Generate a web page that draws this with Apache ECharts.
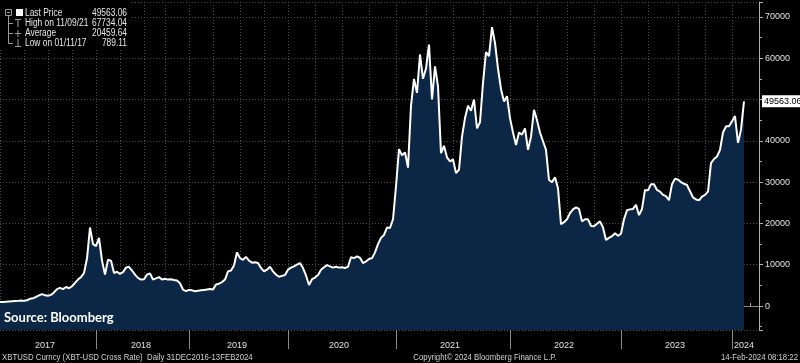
<!DOCTYPE html>
<html><head><meta charset="utf-8">
<script src="https://cdn.jsdelivr.net/npm/echarts@6/dist/echarts.min.js"></script>
<style>html,body{margin:0;padding:0;background:#000}#c{width:800px;height:363px}</style>
</head><body><div id="c"></div>
<script>
const years = ['2017','2018','2019','2020','2021','2022','2023','2024'];
const p2017 = [1000,1000,1050,1100,1150,1200,1250,1350,1250,1400,1750,1900,2200,2600,2900,2600,2500,2700,3300,4100,4400,4100,4600,4300,4800,5600,6400,7000,8000,11500,19000,15000];
const p2018 = [14500,16500,11000,7600,11200,11000,8000,8300,7800,8200,9300,9500,8600,7600,6800,6400,6500,7600,7900,6400,6700,7000,6400,6600,6400,6500,6300,6200,5500,4000,3600];
const p2019 = [3900,3800,3600,3700,3800,3900,4000,4100,4000,5200,5400,5800,6400,8400,8600,9800,13000,11600,11200,11900,11000,10500,10600,10400,9200,8400,8800,9500,8400,7600,7100,7300,7500];
const p2020 = [8800,9300,9600,10000,10400,9200,7400,5100,6500,6900,7500,8800,9400,9900,9600,9300,9500,9300,9400,9200,9500,11800,11600,12000,11700,10400,10800,11400,11600,13000,15000,16500,17200,19000,18900,21000];
const p2021 = [29000,38000,36500,37200,33500,48500,55000,51600,60900,55000,57500,63300,50000,58000,53200,37000,38800,36000,35000,35500,32200,33000,41000,45500,48500,47300,50000,43000,44500,54000,61500,60500,67500,63700,57500,52500,49500,50800];
const p2022 = [45500,42000,39000,42000,41500,43000,37800,41000,47500,45000,42000,39900,37800,30500,30000,31200,28500,19800,20300,21000,22500,23400,23900,23500,20500,21000,21000,19400,19300,19900,20500,19000,16000,16500,16900,17600,17000];
const p2023 = [17500,21000,23200,23400,23500,24500,22000,23500,28100,28000,29500,29500,28100,27700,26900,26600,25600,29500,30800,30600,30000,29600,29300,27800,26300,25800,25600,26500,26900,27700,34600,35600,36200,37800,42000,43500,43500];
const p2024 = [44700,46000,39500,42700,49563.06];
const yearSeries = [p2017,p2018,p2019,p2020,p2021,p2022,p2023,p2024];
const emptySlotsAfterData = 5;
const lastPrice = 49563.06;
const statLabels = ['Last Price','High on 11/09/21','Average','Low on 01/11/17'];
const statValues = ['49563.06','67734.04','20459.64','789.11'];
const sourceText = 'Source: Bloomberg';
const footerLeft = 'XBTUSD Curncy (XBT-USD Cross Rate)  Daily 31DEC2016-13FEB2024';
const footerCenter = 'Copyright\u00A9 2024 Bloomberg Finance L.P.';
const footerRight = '14-Feb-2024 08:18:22';

const FONT = "'Liberation Sans',sans-serif";
const cats = [], vals = [];
const midSet = new Set(), quarterSet = new Set(), monthSet = new Set(), yearSet = new Set();
const fullYearLen = p2023.length;
yearSeries.forEach((arr, k) => {
  const last = k === yearSeries.length - 1;
  const n = arr.length + (last ? emptySlotsAfterData : 0);
  const start = cats.length;
  if (k > 0) yearSet.add(start);
  midSet.add(start + Math.floor((n - 1) / 2));
  const nominal = last ? fullYearLen : arr.length;
  for (let q = 0; q < 4; q++) { const idx = start + Math.round(q * nominal / 4); if (idx < start + n) quarterSet.add(idx); }
  for (let m = 0; m < 12; m++) { const idx = start + Math.round(m * nominal / 12); if (idx < start + n) monthSet.add(idx); }
  for (let j = 0; j < n; j++) { cats.push(years[k] + '|' + j); vals.push(j < arr.length ? arr[j] : null); }
});

const G = {left: 0, right: 41, top: 2, bottom: 33};
const txt = (x, y, text, extra, sx) => ({type:'text', x, y, scaleX: sx || 1, silent:true, z:100,
  style:Object.assign({text, fill:'#e6e6e6', font:"10px " + FONT, verticalAlign:'middle'}, extra||{})});
const ln = (x1,y1,x2,y2) => ({type:'line', silent:true, z:100, shape:{x1,y1,x2,y2}, style:{stroke:'#9a9a9a', lineWidth:1}});
const rowY = [13, 23, 33, 43];
const graphics = [
  {type:'rect', silent:true, z:99, shape:{x:0,y:0,width:131,height:50}, style:{fill:'#000'}},
  {type:'rect', silent:true, z:100, shape:{x:5.5,y:9.5,width:6,height:6}, style:{fill:'none', stroke:'#9a9a9a'}},
  ln(7,12.5,10,12.5), ln(8.5,15.5,8.5,43.5), ln(8.5,23.5,13,23.5), ln(8.5,33.5,13,33.5), ln(8.5,43.5,13,43.5),
  {type:'rect', silent:true, z:100, shape:{x:16,y:9,width:7,height:7}, style:{fill:'#fff'}},
  ln(15,19.5,21,19.5), ln(18,19.5,18,27),
  ln(15,33.5,21,33.5), ln(18,30,18,37),
  ln(18,39,18,46.5), ln(15,46.5,21,46.5),
  txt(4, 318, sourceText, {fill:'#fff', font:"bold 13px Lato"}),
  txt(2, 357, footerLeft, {font:"9.5px " + FONT, fill:'#d0d0d0'}, 0.82),
  txt(485, 357, footerCenter, {font:"9.5px " + FONT, fill:'#d0d0d0', align:'center'}, 0.82),
  txt(798, 357, footerRight, {font:"9.5px " + FONT, fill:'#d0d0d0', align:'right'}, 0.82)
];
statLabels.forEach((s, i) => {
  graphics.push(txt(25, rowY[i], s, null, 0.84));
  graphics.push(txt(127, rowY[i], statValues[i], {align:'right'}, 0.84));
});

const dotted = {color:'#4d4d4d', type:[1,2], width:1};
const chart = echarts.init(document.getElementById('c'));
chart.setOption({
  backgroundColor:'#000',
  animation:false,
  grid:[Object.assign({}, G), Object.assign({}, G)],
  xAxis:[{
    type:'category', data:cats, boundaryGap:false, gridIndex:0,
    axisLine:{show:true, lineStyle:{color:'#888'}},
    axisTick:{show:true, inside:true, length:3, interval:(i)=>monthSet.has(i), lineStyle:{color:'#aaa'}},
    axisLabel:{show:true, interval:(i)=>midSet.has(i), formatter:(v)=>v.split('|')[0], color:'#e0e0e0', fontSize:9, fontFamily:FONT, margin:11},
    splitLine:{show:true, interval:(i)=>quarterSet.has(i), lineStyle:dotted}
  },{
    type:'category', data:cats, boundaryGap:false, gridIndex:1, offset:3,
    axisLine:{show:false},
    axisTick:{show:true, length:19, interval:(i)=>yearSet.has(i), lineStyle:{color:'#8a8a8a'}},
    axisLabel:{show:false}, splitLine:{show:false}
  }],
  yAxis:[{
    type:'value', position:'right', gridIndex:0, min:-5800, max:73600, splitNumber:8,
    axisLine:{show:true, lineStyle:{color:'#b0b0b0'}},
    axisTick:{show:true, length:4, lineStyle:{color:'#b0b0b0'}},
    minorTick:{show:true, splitNumber:2, length:3, lineStyle:{color:'#b0b0b0'}},
    axisLabel:{color:'#e0e0e0', fontSize:9, fontFamily:FONT, margin:6, formatter:(v)=> (v % 10000 === 0 ? String(v) : '')},
    splitLine:{show:true, lineStyle:dotted}
  },{type:'value', gridIndex:1, show:false}],
  series:[{
    type:'line', data:vals, xAxisIndex:0, yAxisIndex:0, symbol:'none', showSymbol:false, connectNulls:false,
    lineStyle:{color:'#fff', width:2}, areaStyle:{color:'#0c2646', opacity:1, origin:'start'},
    markLine:{
      silent:true, symbol:'none', z:10, data:[{yAxis:lastPrice}], lineStyle:{color:'rgba(0,0,0,0)', width:0},
      label:{show:true, position:'end', distance:3, formatter:()=>lastPrice.toFixed(2), color:'#000', backgroundColor:'#fff', padding:[2,2,1,2], fontSize:9, fontFamily:FONT}
    }
  }],
  graphic:graphics
});
</script></body></html>
